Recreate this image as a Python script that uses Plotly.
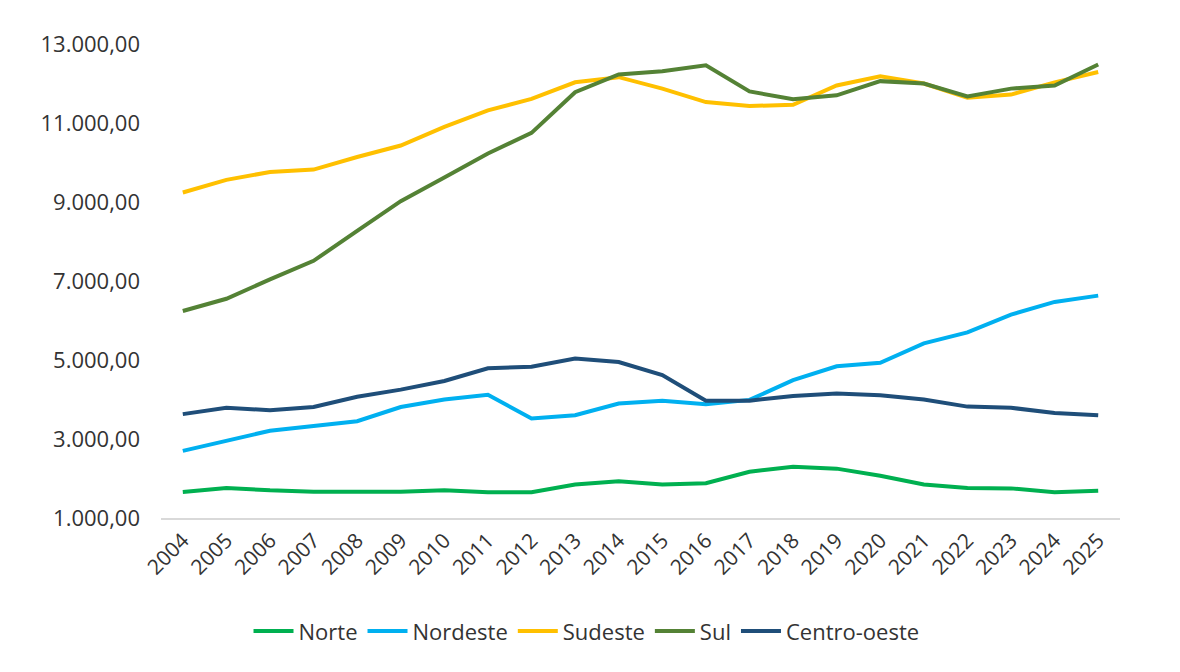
import plotly.graph_objects as go

anos = [str(a) for a in range(2004, 2026)]

norte = [1660, 1760, 1700, 1665, 1665, 1665, 1700, 1650, 1650, 1850, 1930,
         1850, 1880, 2170, 2300, 2250, 2070, 1850, 1760, 1750, 1650, 1690]
nordeste = [2700, 2960, 3210, 3330, 3450, 3810, 4000, 4120, 3520, 3600, 3900,
            3970, 3880, 3990, 4490, 4840, 4930, 5420, 5700, 6150, 6470, 6630]
sudeste = [9240, 9560, 9760, 9820, 10140, 10430, 10900, 11320, 11610, 12030, 12160,
           11870, 11530, 11430, 11460, 11950, 12180, 12000, 11640, 11720, 12030, 12290]
sul = [6240, 6550, 7040, 7510, 8270, 9020, 9620, 10230, 10750, 11780, 12230,
       12310, 12460, 11800, 11600, 11700, 12060, 12000, 11670, 11870, 11950, 12480]
centro_oeste = [3630, 3790, 3730, 3810, 4070, 4250, 4470, 4790, 4830, 5040, 4950,
                4620, 3970, 3970, 4090, 4150, 4110, 4000, 3820, 3790, 3660, 3600]

series = [
    ("Norte", norte, "#00B050"),
    ("Nordeste", nordeste, "#00B0F0"),
    ("Sudeste", sudeste, "#FFC000"),
    ("Sul", sul, "#548235"),
    ("Centro-oeste", centro_oeste, "#1F4E79"),
]

fig = go.Figure()
for nome, valores, cor in series:
    fig.add_trace(go.Scatter(x=anos, y=valores, name=nome, mode="lines",
                             line=dict(color=cor, width=4)))

# the page body adds 8px around the figure, so it is drawn a bit smaller
fig.update_layout(
    width=1164, height=656,
    template="plotly_white",
    separators=",.",
    margin=dict(l=153, r=52, t=36, b=146),
    font=dict(family="Open Sans", size=21, color="#333333"),
    showlegend=True,
    legend=dict(orientation="h", xref="container", yref="container",
                x=0.497, y=0.050, xanchor="center", yanchor="middle",
                font=dict(size=22, color="#333333"), itemwidth=40,
                tracegroupgap=0),
    plot_bgcolor="white", paper_bgcolor="white",
)
fig.update_xaxes(showgrid=False, showline=True, linecolor="#D9D9D9", linewidth=2,
                 range=[-0.5, 21.5], tickangle=-45, ticks="",
                 tickfont=dict(size=21), zeroline=False)
fig.update_yaxes(showgrid=False, showline=False, zeroline=False,
                 range=[1000, 13000], tickvals=[1000, 3000, 5000, 7000, 9000, 11000, 13000],
                 tickformat=",.2f", tickfont=dict(size=22), ticklabelstandoff=20)

fig.write_html("out.html")
